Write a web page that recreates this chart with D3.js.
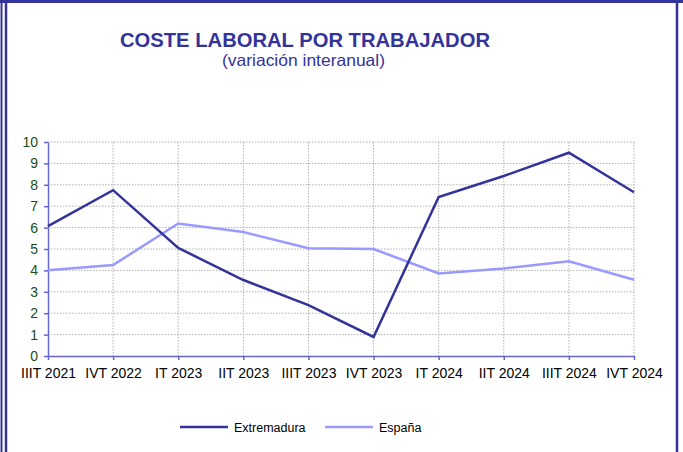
<!DOCTYPE html>
<html>
<head>
<meta charset="utf-8">
<script src="https://cdn.jsdelivr.net/npm/d3@7"></script>
<style>
  body { margin: 0; background: #fff; }
  svg { display: block; font-family: "Liberation Sans", Arial, sans-serif; }
</style>
</head>
<body>
<svg id="chart" width="683" height="452"></svg>
<script>
var quarters = ["IIIT 2021", "IVT 2022", "IT 2023", "IIT 2023", "IIIT 2023", "IVT 2023", "IT 2024", "IIT 2024", "IIIT 2024", "IVT 2024"];
var extremadura = [6.07, 7.75, 5.05, 3.55, 2.38, 0.89, 7.43, 8.41, 9.5, 7.65];
var espana = [4.01, 4.25, 6.19, 5.79, 5.04, 5.0, 3.86, 4.09, 4.43, 3.56];
var yTicks = [0, 1, 2, 3, 4, 5, 6, 7, 8, 9, 10];

var navy = "#333399", lilac = "#9999ff";
var svg = d3.select("#chart");

// marco
svg.append("line").attr("x1", 0).attr("x2", 683).attr("y1", 1.5).attr("y2", 1.5)
  .attr("stroke", navy).attr("stroke-width", 3);
svg.append("line").attr("x1", 1.5).attr("x2", 1.5).attr("y1", 0).attr("y2", 452)
  .attr("stroke", navy).attr("stroke-width", 2);
svg.append("line").attr("x1", 6).attr("x2", 6).attr("y1", 0).attr("y2", 452)
  .attr("stroke", navy).attr("stroke-width", 2.5);
svg.append("line").attr("x1", 677).attr("x2", 677).attr("y1", 3).attr("y2", 452)
  .attr("stroke", navy).attr("stroke-width", 2.5);

// titulos
svg.append("text").attr("x", 120).attr("y", 47)
  .attr("fill", navy).attr("font-weight", "bold").attr("font-size", 21)
  .attr("textLength", 370).attr("lengthAdjust", "spacingAndGlyphs")
  .text("COSTE LABORAL POR TRABAJADOR");
svg.append("text").attr("x", 222).attr("y", 66)
  .attr("fill", navy).attr("font-size", 16.5)
  .attr("textLength", 163).attr("lengthAdjust", "spacingAndGlyphs")
  .text("(variación interanual)");

var x = d3.scalePoint().domain(quarters).range([48, 634]);
var y = d3.scaleLinear().domain([0, 10]).range([356, 142]);

// rejilla
var grid = svg.append("g");
grid.selectAll(".h").data(yTicks.slice(1)).enter().append("line")
  .attr("x1", 48).attr("x2", 634)
  .attr("y1", function(d) { return y(d); }).attr("y2", function(d) { return y(d); })
  .attr("stroke", "#b0b0b0").attr("stroke-width", 1).attr("stroke-dasharray", "1.5,1.5");
grid.selectAll(".v").data(quarters.slice(1)).enter().append("line")
  .attr("x1", function(d) { return x(d); }).attr("x2", function(d) { return x(d); })
  .attr("y1", 142).attr("y2", 356)
  .attr("stroke", "#b0b0b0").attr("stroke-width", 1).attr("stroke-dasharray", "1.5,1.5");

// ejes
var yAxis = svg.append("g").attr("transform", "translate(48,0)")
  .call(d3.axisLeft(y).tickValues(yTicks).tickSize(4).tickSizeOuter(0).tickPadding(6));
yAxis.selectAll("text").attr("fill", "#1a4d1a").attr("font-size", 14)
  .attr("font-family", "Liberation Sans, Arial, sans-serif");

var xAxis = svg.append("g").attr("transform", "translate(0,356)")
  .call(d3.axisBottom(x).tickSize(4).tickSizeOuter(0).tickPadding(8));
xAxis.selectAll("text").attr("fill", "#000").attr("font-size", 14)
  .attr("font-family", "Liberation Sans, Arial, sans-serif");

svg.selectAll(".domain").attr("stroke", "#6666cc").attr("stroke-width", 1.5);
svg.selectAll(".tick line").attr("stroke", "#6666cc").attr("stroke-width", 1.5);

// series
var line = d3.line()
  .x(function(d, i) { return x(quarters[i]); })
  .y(function(d) { return y(d); });

svg.append("path").datum(espana).attr("d", line)
  .attr("fill", "none").attr("stroke", lilac).attr("stroke-width", 2.5);
svg.append("path").datum(extremadura).attr("d", line)
  .attr("fill", "none").attr("stroke", navy).attr("stroke-width", 2.5);

// leyenda
var legend = [
  {name: "Extremadura", color: navy, x: 180},
  {name: "España", color: lilac, x: 325}
];
var lg = svg.selectAll(".lg").data(legend).enter().append("g")
  .attr("transform", function(d) { return "translate(" + d.x + ",427)"; });
lg.append("line").attr("x1", 0).attr("x2", 48).attr("y1", 0).attr("y2", 0)
  .attr("stroke", function(d) { return d.color; }).attr("stroke-width", 2.5);
lg.append("text").attr("x", 54).attr("y", 4.5).attr("font-size", 12.5)
  .attr("fill", "#000").text(function(d) { return d.name; });
</script>
</body>
</html>
